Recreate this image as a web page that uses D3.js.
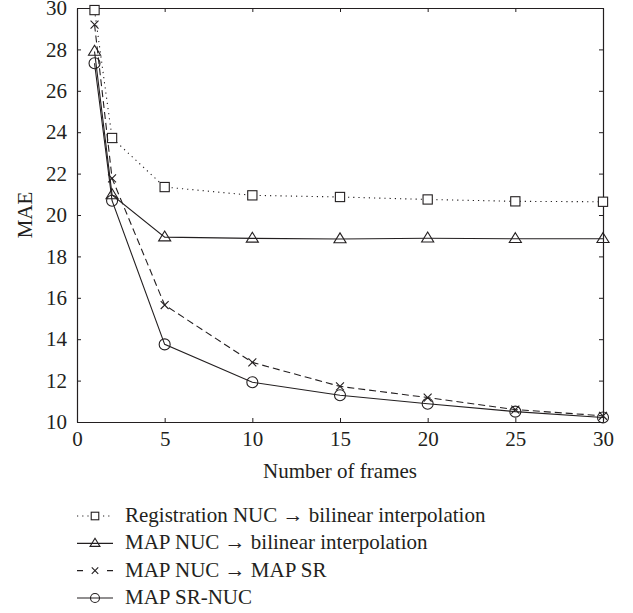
<!DOCTYPE html>
<html lang="en">
<head>
<meta charset="utf-8" />
<title>MAE vs number of frames</title>
<script src="https://d3js.org/d3.v7.min.js"></script>
<style>
    body { margin: 0; background: #fff; }
</style>
</head>
<body>
<script>
// data
const frames = [1, 2, 5, 10, 15, 20, 25, 30];
const regBilinear = [29.9, 23.72, 21.35, 20.95, 20.87, 20.75, 20.66, 20.64];
const mapBilinear = [27.9, 20.97, 18.93, 18.87, 18.84, 18.88, 18.85, 18.85];
const mapSR = [29.2, 21.77, 15.65, 12.88, 11.72, 11.18, 10.6, 10.3];
const mapSRNUC = [27.33, 20.69, 13.75, 11.92, 11.29, 10.88, 10.5, 10.22];
const xTicks = [0, 5, 10, 15, 20, 25, 30];
const yTicks = [10, 12, 14, 16, 18, 20, 22, 24, 26, 28, 30];
const seriesNames = [
    "Registration NUC \u2192 bilinear interpolation",
    "MAP NUC \u2192 bilinear interpolation",
    "MAP NUC \u2192 MAP SR",
    "MAP SR-NUC"
];

const ink = "#231f20";
const serif = "'Liberation Serif', 'DejaVu Serif', serif";
const fontSize = "21px";
const series = [
    { name: seriesNames[0], values: regBilinear, dash: "1.2,4", legendDash: "1.2,4", marker: "square" },
    { name: seriesNames[1], values: mapBilinear, dash: null, legendDash: null, marker: "triangle" },
    { name: seriesNames[2], values: mapSR, dash: "7,4", legendDash: "6,24", marker: "cross" },
    { name: seriesNames[3], values: mapSRNUC, dash: null, legendDash: null, marker: "circle" }
];

const svg = d3.select("body").append("svg")
    .attr("width", 633)
    .attr("height", 613);

const plotL = 77, plotT = 8, plotR = 603, plotB = 422;
const x = d3.scaleLinear().domain([0, 30]).range([plotL, plotR]);
const y = d3.scaleLinear().domain([10, 30]).range([plotB, plotT]);

// axes, ticks pointing inward on all four sides
function styleAxis(g) {
    g.attr("font-family", serif);
    g.selectAll("path").attr("stroke", ink).attr("stroke-width", 1.2);
    g.selectAll("line").attr("stroke", ink).attr("stroke-width", 1);
    g.selectAll("text").style("font-family", serif).style("font-size", fontSize).attr("fill", ink);
}
svg.append("g").attr("transform", `translate(0,${plotB})`)
    .call(d3.axisBottom(x).tickValues(xTicks).tickSizeInner(-4).tickSizeOuter(0).tickPadding(9))
    .call(styleAxis);
svg.append("g").attr("transform", `translate(0,${plotT})`)
    .call(d3.axisTop(x).tickValues(xTicks).tickSizeInner(-4).tickSizeOuter(0).tickFormat(""))
    .call(styleAxis);
svg.append("g").attr("transform", `translate(${plotL},0)`)
    .call(d3.axisLeft(y).tickValues(yTicks).tickSizeInner(-4).tickSizeOuter(0).tickPadding(10))
    .call(styleAxis);
svg.append("g").attr("transform", `translate(${plotR},0)`)
    .call(d3.axisRight(y).tickValues(yTicks).tickSizeInner(-4).tickSizeOuter(0).tickFormat(""))
    .call(styleAxis);

svg.append("text")
    .attr("x", (plotL + plotR) / 2).attr("y", 478)
    .attr("text-anchor", "middle")
    .attr("fill", ink)
    .style("font-family", serif)
    .style("font-size", fontSize)
    .text("Number of frames");
svg.append("text")
    .attr("transform", `translate(32,${(plotT + plotB) / 2}) rotate(-90)`)
    .attr("text-anchor", "middle")
    .attr("fill", ink)
    .style("font-family", serif)
    .style("font-size", fontSize)
    .text("MAE");

// marker drawing
function drawMarker(g, type, cx, cy, s) {
    if (type === "square") {
        g.append("rect").attr("x", cx - s * 0.42).attr("y", cy - s * 0.42)
            .attr("width", s * 0.84).attr("height", s * 0.84)
            .attr("fill", "white").attr("stroke", ink).attr("stroke-width", 1.1);
    } else if (type === "triangle") {
        const h = s * 0.9;
        g.append("path")
            .attr("d", `M${cx},${cy - h * 0.62}L${cx + s * 0.55},${cy + h * 0.38}L${cx - s * 0.55},${cy + h * 0.38}Z`)
            .attr("fill", "none").attr("stroke", ink).attr("stroke-width", 1.1);
    } else if (type === "cross") {
        const r = s * 0.36;
        g.append("path")
            .attr("d", `M${cx - r},${cy - r}L${cx + r},${cy + r}M${cx - r},${cy + r}L${cx + r},${cy - r}`)
            .attr("stroke", ink).attr("stroke-width", 1.1);
    } else {
        g.append("circle").attr("cx", cx).attr("cy", cy).attr("r", s * 0.5)
            .attr("fill", "none").attr("stroke", ink).attr("stroke-width", 1.1);
    }
}

const line = d3.line().x(d => x(d[0])).y(d => y(d[1]));

series.forEach(s => {
    const pts = frames.map((f, i) => [f, s.values[i]]);
    svg.append("path")
        .datum(pts)
        .attr("d", line)
        .attr("fill", "none")
        .attr("stroke", ink)
        .attr("stroke-width", 1.1)
        .attr("stroke-dasharray", s.dash);
    const g = svg.append("g");
    pts.forEach(p => drawMarker(g, s.marker, x(p[0]), y(p[1]), 11));
});

// legend
const legendY = d3.scalePoint().domain(seriesNames).range([516, 598]);
series.forEach(s => {
    const ly = legendY(s.name);
    svg.append("line")
        .attr("x1", 77).attr("x2", 113).attr("y1", ly).attr("y2", ly)
        .attr("stroke", ink).attr("stroke-width", 1.1)
        .attr("stroke-dasharray", s.legendDash);
    drawMarker(svg.append("g"), s.marker, 95, ly, 9);
    svg.append("text")
        .attr("x", 125).attr("y", ly + 6)
        .attr("fill", ink)
        .style("font-family", serif)
        .style("font-size", fontSize)
        .text(s.name);
});
</script>
</body>
</html>
